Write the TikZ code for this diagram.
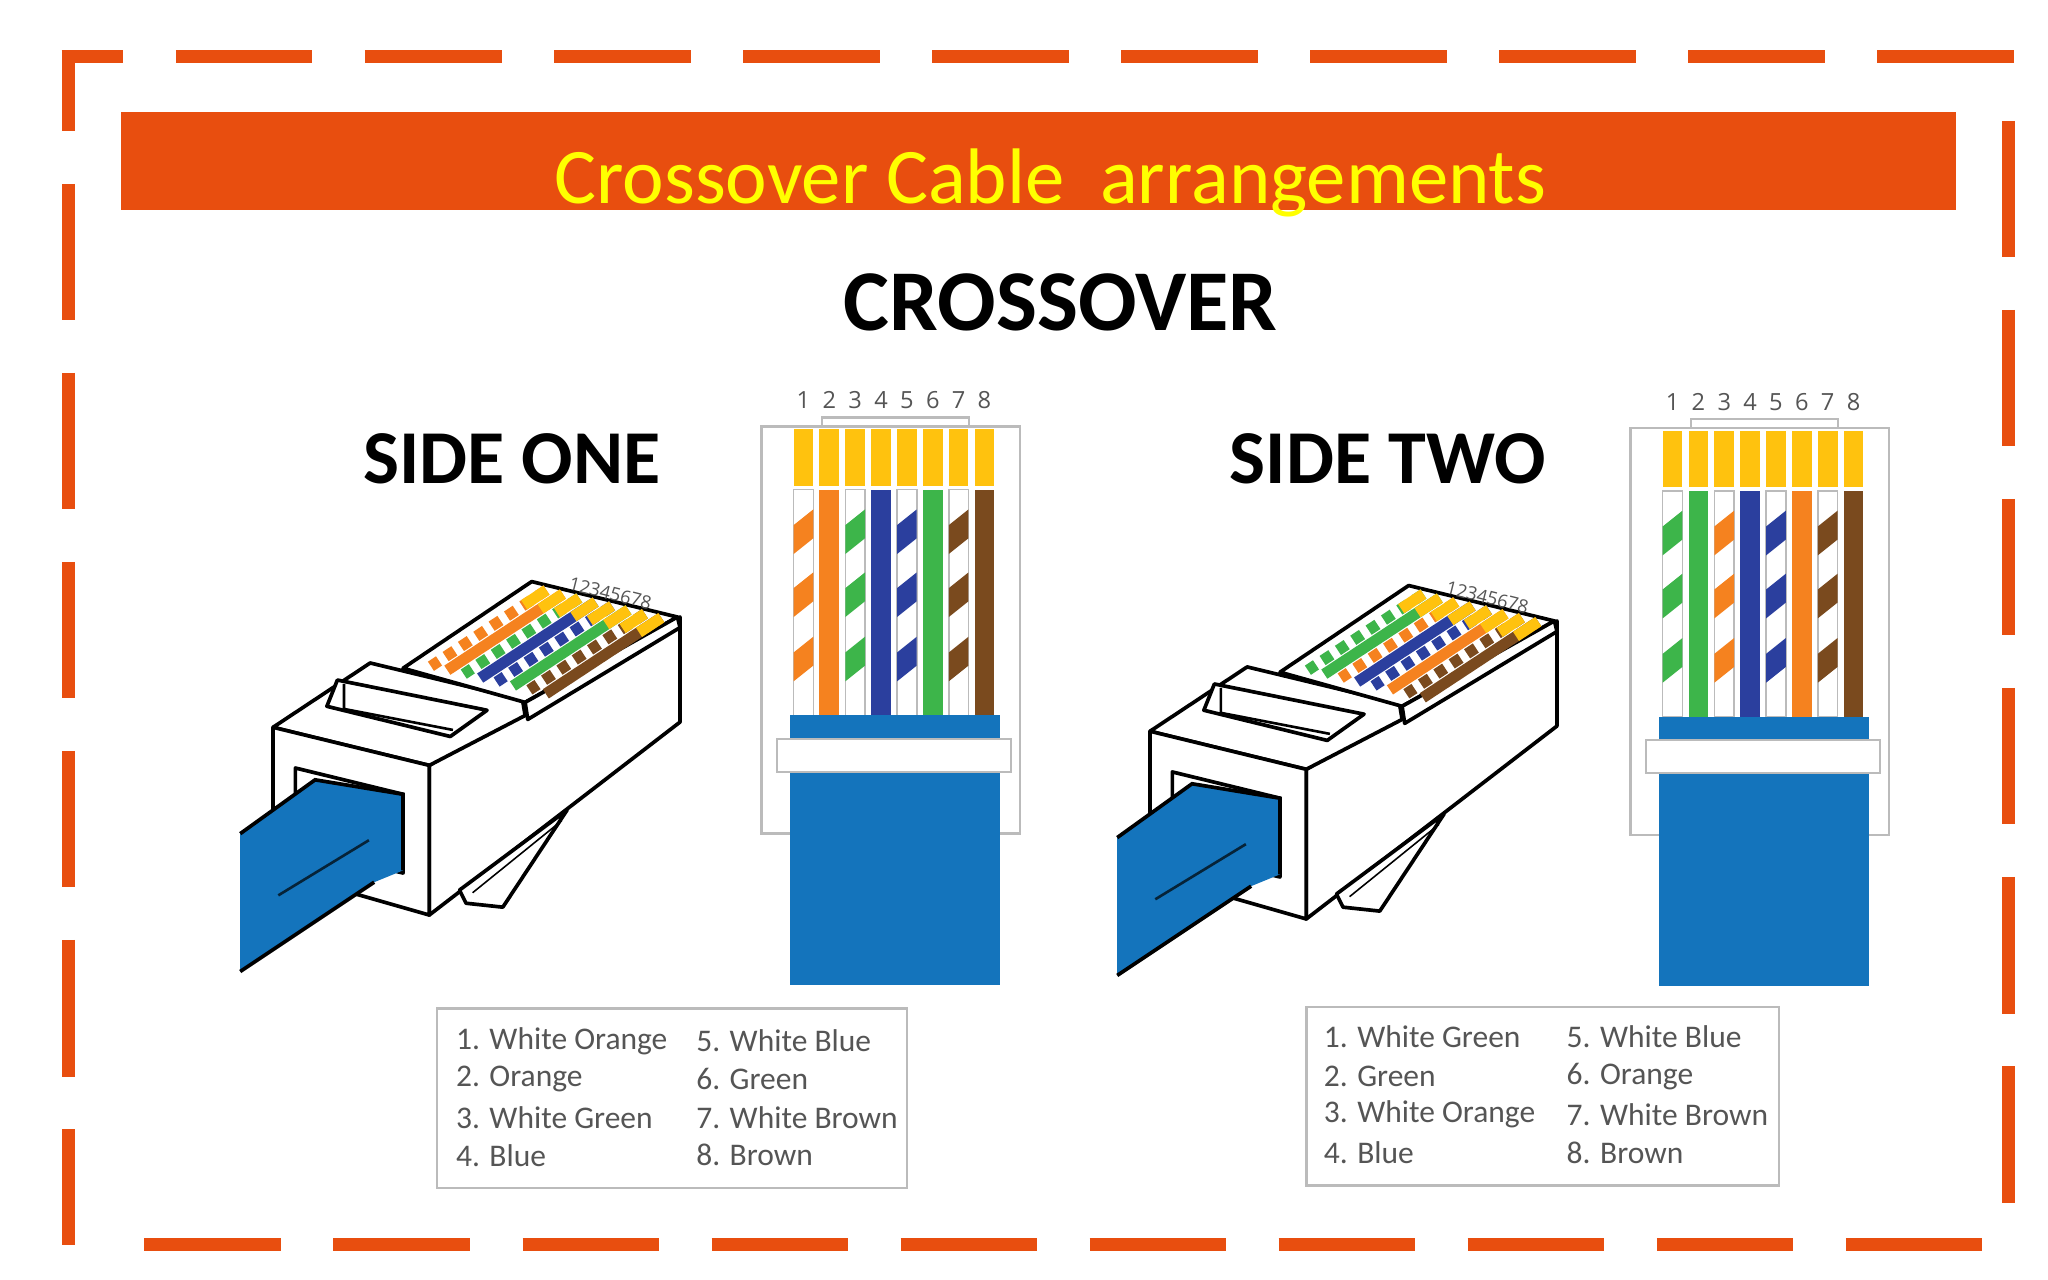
\documentclass[tikz,border=0pt]{standalone}
\usepackage{fontspec}
\setmainfont{Carlito}
\newfontfamily\osans{Open Sans}
\definecolor{bord}{HTML}{E84E0F}
\definecolor{ttl}{HTML}{FFFF00}
\definecolor{orng}{HTML}{F5821F}
\definecolor{grn}{HTML}{3DB54A}
\definecolor{blu}{HTML}{2B3F9E}
\definecolor{brn}{HTML}{7A4A1E}
\definecolor{pinyel}{HTML}{FFC20E}
\definecolor{jack}{HTML}{1474BC}
\definecolor{lgray}{HTML}{BBBBBB}
\definecolor{txtg}{HTML}{555555}
\tikzset{
  brd/.style={draw=bord,line width=5pt,dash pattern=on 52pt off 20pt},
  pl/.style={draw=black,line width=1.4pt,fill=white,line join=round},
  leg/.style={font=\fontsize{12}{14}\selectfont,text=txtg,anchor=west,inner sep=0pt},
  side/.style={font=\bfseries\fontsize{29}{32}\selectfont},
  num/.style={font=\osans\fontsize{9}{10}\selectfont,text=txtg,inner sep=0pt}
}
\newcommand{\frontview}[1]{%
  \draw[lgray,line width=1pt,fill=white] (580,325) rectangle (777,635);
  \foreach \c/\s [count=\i] in {#1}{
    \pgfmathsetmacro{\xx}{612+19.7*(\i-1)}
    \fill[pinyel] (\xx-7.5,327) rectangle (\xx+7.5,370);
    \node[num] at (\xx,305) {\i};
    \ifnum\s=1
      \draw[lgray,line width=0.6pt,fill=white] (\xx-7.5,373) rectangle (\xx+7.5,545);
      \foreach \yy in {388,436,485}{
        \fill[\c] (\xx-7.5,\yy+12) -- (\xx+7.5,\yy) -- (\xx+7.5,\yy+22) -- (\xx-7.5,\yy+34) -- cycle;}
    \else
      \fill[\c] (\xx-7.5,373) rectangle (\xx+7.5,545);
    \fi
  }
  \draw[lgray,line width=0.8pt] (626,325) -- (626,318) -- (738,318) -- (738,325);
  \fill[jack] (602,545) rectangle (762,750);
  \draw[lgray,line width=0.8pt,fill=white] (592,563) rectangle (770,588);
}
\newcommand{\plugview}[1]{%
  \draw[pl] (327,583) -- (518,470) -- (518,550) -- (327,697) -- cycle;
  \draw[pl] (208,554) -- (282,505) -- (398,533) -- (400,545) -- (327,583) -- cycle;
  \draw[pl] (208,554) -- (327,583) -- (327,697) -- (208,663) -- cycle;
  \draw[pl] (249,538) -- (257,518) -- (371,541) -- (343,561) -- cycle;
  \draw[black,line width=1pt] (262,521) -- (262,540) -- (345,556);
  \draw[pl] (225,585) -- (307,605) -- (307,665) -- (225,645) -- cycle;
  \draw[pl] (350,678) -- (432,617) -- (383,691) -- (355,688) -- cycle;
  \draw[black,line width=0.6pt] (360,680) -- (428,625);
  \fill[jack] (183,635) -- (240,594) -- (307,605) -- (307,663) -- (285,672) -- (183,740) -- cycle;
  \draw[black,line width=1.4pt] (183,635) -- (240,594) -- (307,605) -- (307,663);
  \draw[black,line width=1.4pt] (285,672) -- (183,740);
  \draw[black!70!jack,line width=1pt] (212,682) -- (281,640);
  \draw[pl] (307,509) -- (405,443) -- (516,470) -- (400,535) -- cycle;
  \draw[pl] (400,535) -- (516,470) -- (518,478) -- (402,548) -- cycle;
  \foreach \c/\s [count=\i] in {#1}{
    \pgfmathsetmacro{\bx}{410+100*(\i-0.5)/8}
    \pgfmathsetmacro{\by}{448+24*(\i-0.5)/8}
    \ifnum\s=1
      \draw[white,line width=4.2pt] (\bx,\by) -- ++(-88,58);
      \draw[\c,line width=4.2pt,dash pattern=on 4pt off 3pt] (\bx,\by) -- ++(-88,58);
    \else
      \draw[\c,line width=4.2pt] (\bx,\by) -- ++(-88,58);
    \fi
    \draw[pinyel,line width=4.2pt] (\bx,\by) -- ++(-17,11.2);
  }
  \node[num,font=\osans\fontsize{7}{8}\selectfont,rotate=-14] at (465,452) {12345678};
}
\begin{document}
\begin{tikzpicture}[x=0.5pt,y=-0.5pt]
\useasboundingbox (0,0) rectangle (1560,975);
\fill[white] (0,0) rectangle (1560,975);
\draw[brd,dash phase=28.5pt] (47,43) -- (1535,43);
\draw[brd,dash phase=23.5pt] (52,43) -- (52,948);
\draw[brd] (1530,92) -- (1530,948);
\draw[brd] (110,948) -- (1530,948);
\fill[bord] (92,85) rectangle (1490,160);
\node[text=ttl,font=\fontsize{30}{34}\selectfont,anchor=base] (title) at (800,155) {Crossover Cable\ \ arrangements};
\node[font=\bfseries\fontsize{33}{36}\selectfont,anchor=base] (cross) at (808,252) {CROSSOVER};
\node[side,anchor=base] (s1) at (390,368) {SIDE ONE};
\node[side,anchor=base] (s2) at (1057,368) {SIDE TWO};
\frontview{orng/1,orng/0,grn/1,blu/0,blu/1,grn/0,brn/1,brn/0}
\plugview{orng/1,orng/0,grn/1,blu/0,blu/1,grn/0,brn/1,brn/0}
\begin{scope}[shift={(662,1)}]
\frontview{grn/1,grn/0,orng/1,blu/0,blu/1,orng/0,brn/1,brn/0}
\end{scope}
\begin{scope}[shift={(668,3)}]
\plugview{grn/1,grn/0,orng/1,blu/0,blu/1,orng/0,brn/1,brn/0}
\end{scope}
\draw[lgray,line width=1pt] (333,768) rectangle (691,905);
\node[leg] at (347,793) {1. White Orange};
\node[leg] at (347,822) {2. Orange};
\node[leg] at (347,851) {3. White Green};
\node[leg] at (347,880) {4. Blue};
\node[leg] at (530,793) {5. White Blue};
\node[leg] at (530,822) {6. Green};
\node[leg] at (530,851) {7. White Brown};
\node[leg] at (530,880) {8. Brown};
\draw[lgray,line width=1pt] (995,767) rectangle (1355,903);
\node[leg] at (1008,790) {1. White Green};
\node[leg] at (1008,820) {2. Green};
\node[leg] at (1008,849) {3. White Orange};
\node[leg] at (1008,878) {4. Blue};
\node[leg] at (1193,790) {5. White Blue};
\node[leg] at (1193,820) {6. Orange};
\node[leg] at (1193,849) {7. White Brown};
\node[leg] at (1193,878) {8. Brown};
\end{tikzpicture}
\end{document}
